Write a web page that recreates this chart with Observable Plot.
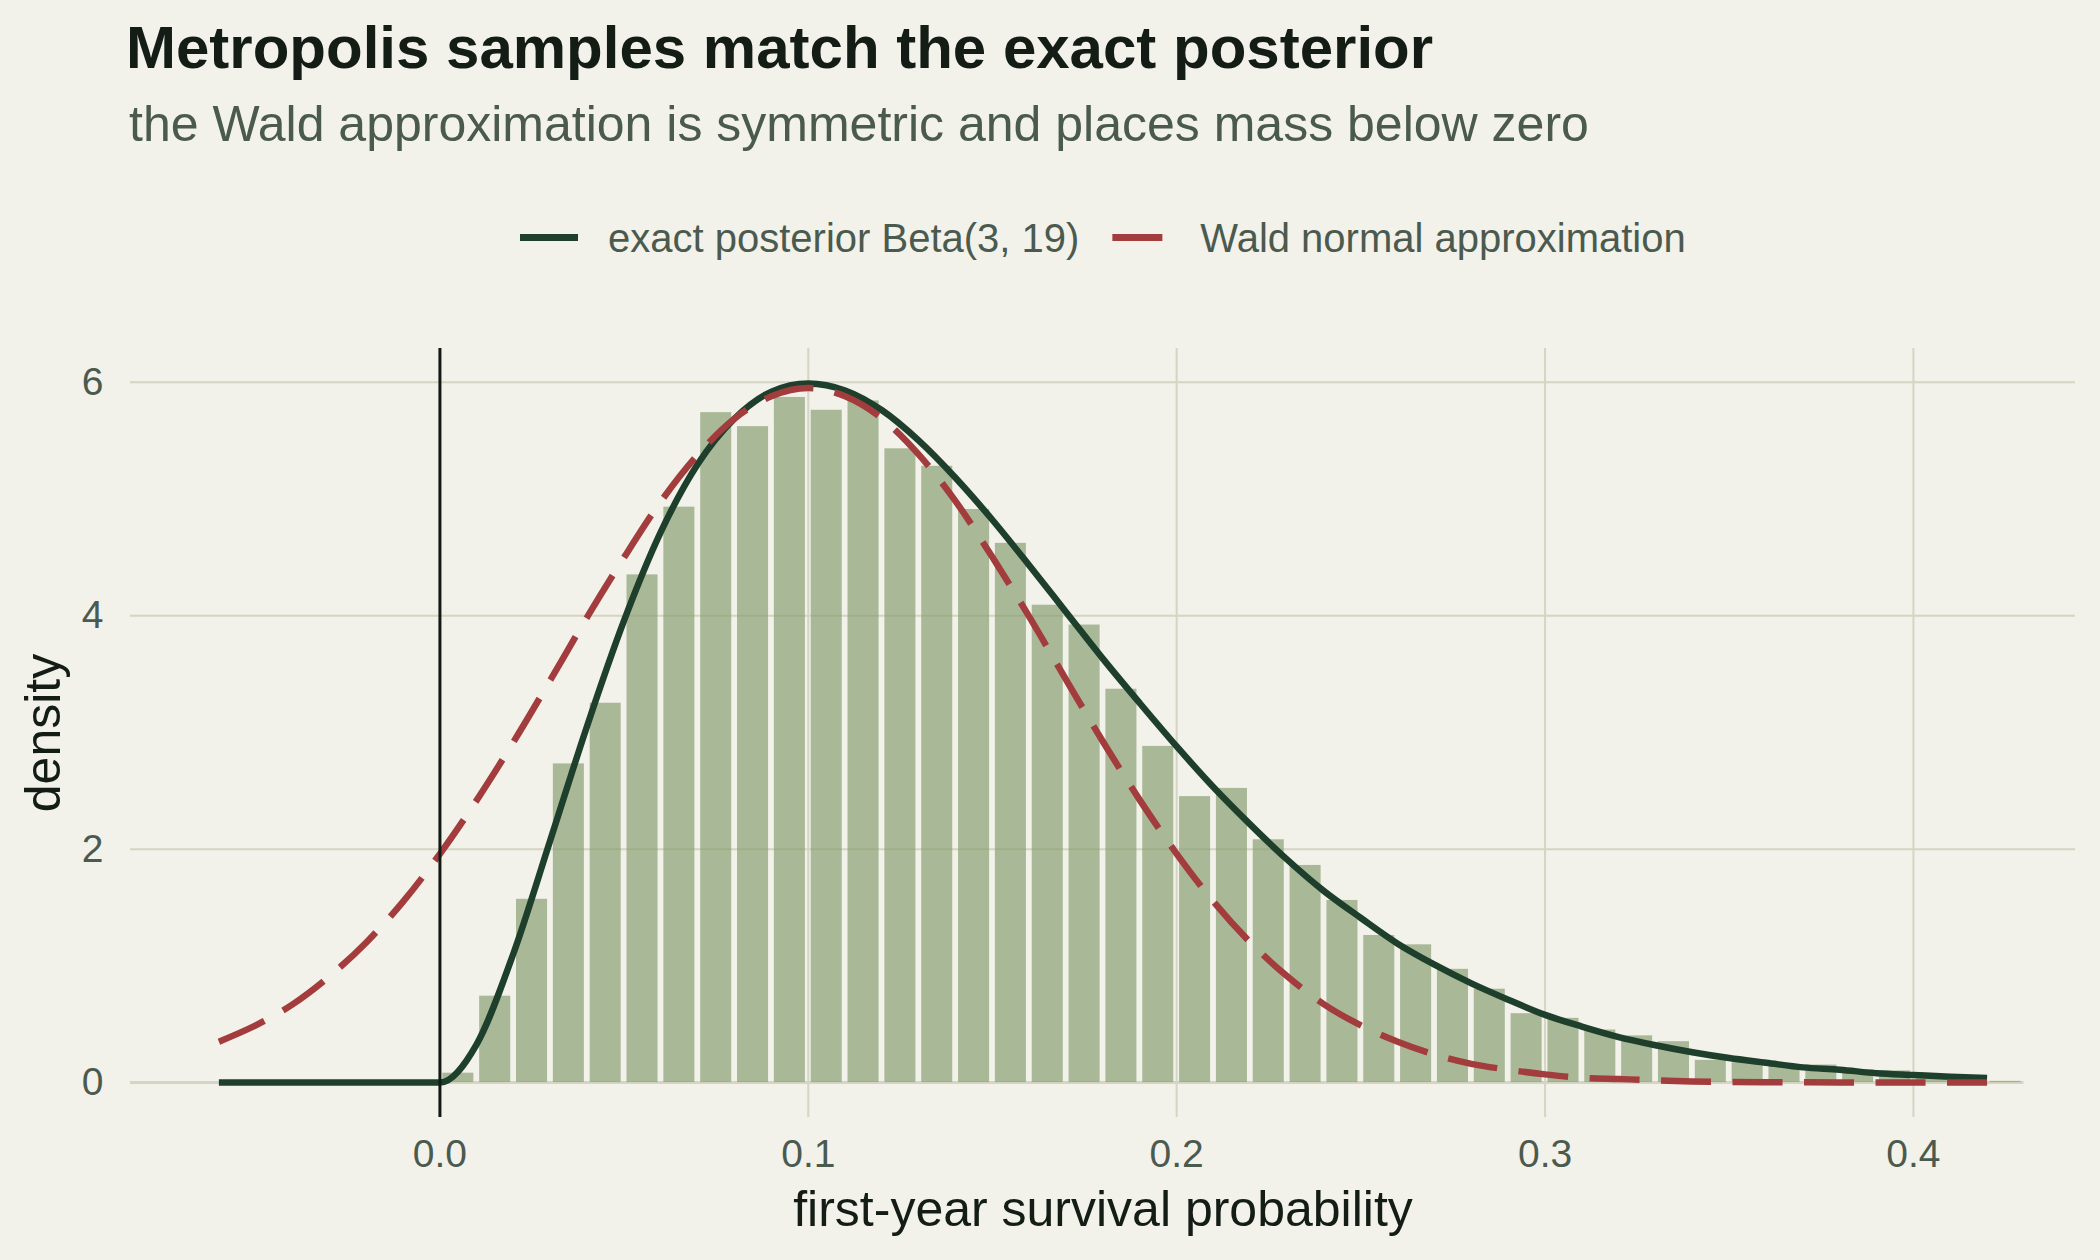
<!DOCTYPE html>
<html><head><meta charset="utf-8">
<script src="https://cdn.jsdelivr.net/npm/d3@7"></script>
<script src="https://cdn.jsdelivr.net/npm/@observablehq/plot@0.6"></script>
<style>
html,body{margin:0;padding:0;background:#f2f1ea;}
#wrap{position:relative;width:2100px;height:1260px;background:#f2f1ea;font-family:"Liberation Sans",Arial,Helvetica,sans-serif;overflow:hidden;}
#title{position:absolute;left:126px;top:17.5px;font-size:60px;line-height:60px;font-weight:bold;color:#141c16;white-space:nowrap;}
#subtitle{position:absolute;left:129px;top:99.4px;font-size:50px;line-height:50px;color:#4b5a4e;white-space:nowrap;}
#legend{position:absolute;left:0;top:200px;}
#chart{position:absolute;left:0;top:300px;}
</style></head>
<body><div id="wrap">
<div id="title">Metropolis samples match the exact posterior</div>
<div id="subtitle">the Wald approximation is symmetric and places mass below zero</div>
<svg id="legend" width="2100" height="80"></svg>
<div id="chart"></div>
</div>
<script>
// ---- data ----
const xTitle = "first-year survival probability";
const yTitle = "density";
const seriesNames = ["exact posterior Beta(3, 19)", "Wald normal approximation"];
const seriesColors = ["#1e3f2b", "#a33c3c"];
const seriesDash = [null, "50,21.5"];

const xTicks = [0.0, 0.1, 0.2, 0.3, 0.4];
const yTicks = [0, 2, 4, 6];
const xDomain = [-0.084, 0.444];
const yDomain = [-0.2995, 6.2895];

// histogram of Metropolis samples (bins of width 0.01 starting at 0)
const binStart = 0;
const binWidth = 0.01;
const histDensity = [0.08, 0.74, 1.57, 2.73, 3.25, 4.35, 4.93, 5.74, 5.62, 5.87,
  5.76, 5.84, 5.43, 5.28, 4.91, 4.62, 4.09, 3.92, 3.37, 2.88,
  2.45, 2.52, 2.08, 1.86, 1.56, 1.26, 1.18, 0.97, 0.80, 0.59,
  0.55, 0.45, 0.40, 0.35, 0.19, 0.17, 0.15, 0.15, 0.11, 0.10,
  0.06, 0.04, 0.01];
const histEnd = 0.43;

// density curves sampled along x
const curveX = [-0.06, -0.05, -0.04, -0.03, -0.02, -0.01, 0.00, 0.01, 0.02, 0.03,
  0.04, 0.05, 0.06, 0.07, 0.08, 0.09, 0.10, 0.11, 0.12, 0.13,
  0.14, 0.15, 0.16, 0.17, 0.18, 0.19, 0.20, 0.21, 0.22, 0.23,
  0.24, 0.25, 0.26, 0.27, 0.28, 0.29, 0.30, 0.31, 0.32, 0.33,
  0.34, 0.35, 0.36, 0.37, 0.38, 0.39, 0.40, 0.41, 0.42];
const betaY = [0, 0, 0, 0, 0, 0, 0, 0.33, 1.11, 2.08,
  3.06, 3.96, 4.72, 5.30, 5.69, 5.92, 5.99, 5.93, 5.76, 5.50,
  5.18, 4.82, 4.43, 4.03, 3.63, 3.25, 2.88, 2.53, 2.21, 1.91,
  1.64, 1.41, 1.19, 1.01, 0.85, 0.71, 0.58, 0.48, 0.39, 0.32,
  0.26, 0.21, 0.17, 0.13, 0.11, 0.08, 0.065, 0.05, 0.04];
const waldY = [0.35, 0.49, 0.67, 0.91, 1.20, 1.55, 1.96, 2.42, 2.92, 3.45,
  3.99, 4.50, 4.98, 5.38, 5.69, 5.88, 5.95, 5.88, 5.69, 5.38,
  4.98, 4.50, 3.99, 3.45, 2.92, 2.42, 1.96, 1.55, 1.20, 0.91,
  0.67, 0.49, 0.35, 0.24, 0.16, 0.11, 0.07, 0.04, 0.03, 0.02,
  0.01, 0.006, 0.003, 0.002, 0.001, 0.0005, 0, 0, 0];

// ---- styles ----
const gridColor = "#d4d5c2";
const textColor = "#4b5a4e";
const darkText = "#141c16";
const font = '"Liberation Sans", Arial, Helvetica, sans-serif';

// ---- legend ----
const leg = d3.select("#legend");
let lx = 520;
seriesNames.forEach((name, i) => {
  const ln = leg.append("line")
    .attr("x1", lx).attr("x2", lx + 58).attr("y1", 37.5).attr("y2", 37.5)
    .attr("stroke", seriesColors[i]).attr("stroke-width", 7);
  if (seriesDash[i]) ln.attr("stroke-dasharray", seriesDash[i]);
  const t = leg.append("text")
    .attr("x", lx + 88).attr("y", 51.7)
    .attr("font-family", font).attr("font-size", 40).attr("fill", textColor)
    .text(name);
  lx = lx + 88 + t.node().getComputedTextLength() + 33;
});

// ---- chart ----
const bins = histDensity.map((d, i) => ({x1: binStart + i * binWidth, x2: binStart + (i + 1) * binWidth, y: d}));
const curves = curveX.map((x, i) => ({x, beta: betaY[i], wald: waldY[i]}));

const chart = Plot.plot({
  width: 2100,
  height: 960,
  marginTop: 48,
  marginBottom: 143,
  marginLeft: 130,
  marginRight: 25,
  style: {background: "#f2f1ea", fontFamily: font, fontSize: "39px", color: textColor, overflow: "visible"},
  x: {domain: xDomain},
  y: {domain: yDomain},
  marks: [
    Plot.gridY(yTicks.filter(d => d !== 0), {stroke: gridColor, strokeOpacity: 1, strokeWidth: 2}),
    Plot.gridX(xTicks, {stroke: gridColor, strokeOpacity: 1, strokeWidth: 2}),
    Plot.ruleY([0], {x1: xDomain[0], x2: histEnd, stroke: gridColor, strokeWidth: 3}),
    Plot.rectY(bins, {x1: "x1", x2: "x2", y: "y", fill: "#819b6c", fillOpacity: 0.65, insetLeft: 2.9, insetRight: 2.9}),
    Plot.line(curves, {x: "x", y: "beta", stroke: seriesColors[0], strokeWidth: 6.5, strokeLinecap: "butt", curve: "monotone-x"}),
    Plot.line(curves, {x: "x", y: "wald", stroke: seriesColors[1], strokeWidth: 6.5, strokeLinecap: "butt", strokeDasharray: seriesDash[1], curve: "monotone-x"}),
    Plot.ruleX([0], {stroke: "#111a14", strokeWidth: 3}),
    Plot.axisX(xTicks, {tickSize: 0, tickPadding: 22, tickFormat: d3.format(".1f"), label: null, fontSize: 39}),
    Plot.axisY(yTicks, {tickSize: 0, tickPadding: 27, tickFormat: d3.format("d"), label: null, fontSize: 39}),
    Plot.text([xTitle], {text: d => d, frameAnchor: "bottom", textAnchor: "middle", lineAnchor: "middle", dy: 92, fontSize: 50, fill: darkText}),
    Plot.text([yTitle], {text: d => d, frameAnchor: "left", textAnchor: "middle", lineAnchor: "middle", dx: -86.5, rotate: -90, fontSize: 50, fill: darkText})
  ]
});
document.getElementById("chart").appendChild(chart);
</script>
</body></html>
